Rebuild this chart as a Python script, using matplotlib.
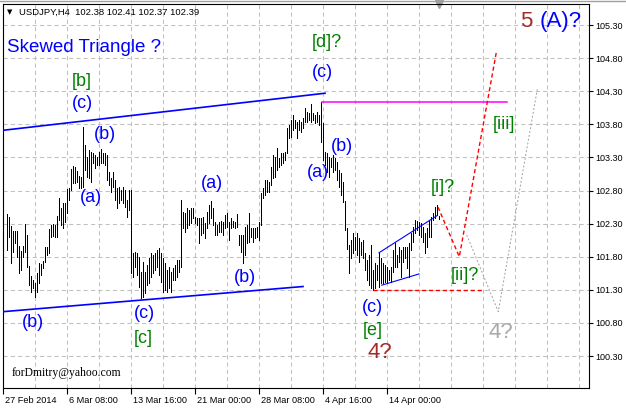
"""
USDJPY H4 bar chart with Elliott-wave markup (skewed triangle count).
"""
import numpy as np
import matplotlib
import matplotlib.pyplot as plt
from matplotlib import transforms

matplotlib.use('Agg')

OUTPUT_PNG = "out.png"

# H4 bar highs / lows, 27 Feb 2014 onwards
HIGHS = [
    102.45, 102.40, 102.26, 102.19, 102.19, 102.19, 101.96, 101.89, 101.96, 102.30,
    102.13, 101.66, 101.51, 101.45, 101.40, 101.55, 101.71, 101.69, 101.74, 101.95,
    101.95, 102.22, 102.28, 102.30, 102.28, 102.42, 102.69, 102.54, 102.61, 102.61,
    102.82, 102.84, 103.13, 103.17, 103.16, 103.10, 103.02, 103.01, 103.76, 103.49,
    103.31, 103.41, 103.38, 103.37, 103.34, 103.31, 103.38, 103.43, 103.37, 103.37,
    103.34, 103.08, 102.99, 103.08, 102.96, 102.84, 102.85, 102.81, 102.85, 102.81,
    102.66, 102.81, 102.81, 101.86, 101.87, 101.86, 101.80, 101.57, 101.72, 101.57,
    101.68, 101.78, 101.86, 101.83, 101.86, 101.90, 101.93, 101.86, 101.78, 101.71,
    101.60, 101.65, 101.57, 101.63, 101.68, 101.75, 101.75, 102.66, 102.48, 102.46,
    102.54, 102.51, 102.54, 102.54, 102.40, 102.39, 102.39, 102.39, 102.40, 102.31,
    102.48, 102.58, 102.64, 102.54, 102.33, 102.28, 102.33, 102.34, 102.33, 102.43,
    102.46, 102.33, 102.39, 102.34, 102.33, 102.45, 102.13, 102.13, 102.13, 102.25,
    102.28, 102.46, 102.23, 102.23, 102.23, 102.25, 102.33, 102.76, 102.84, 102.96,
    102.96, 102.93, 103.16, 103.34, 103.31, 103.44, 103.29, 103.37, 103.37, 103.38,
    103.75, 103.79, 103.87, 103.94, 103.87, 103.84, 103.87, 103.84, 103.90, 104.05,
    103.99, 103.97, 104.11, 103.97, 103.94, 103.99, 103.94, 104.14, 103.82, 103.38,
    103.37, 103.31, 103.29, 103.34, 103.29, 103.23, 103.11, 103.07, 102.93, 102.64,
    102.23, 101.98, 102.05, 102.16, 102.10, 102.16, 102.08, 102.02, 102.05, 101.86,
    101.75, 101.83, 101.98, 101.60, 101.71, 101.68, 101.86, 101.78, 101.71, 101.68,
    101.65, 101.60, 101.65, 101.90, 102.01, 101.83, 101.95, 101.90, 101.95, 101.95,
    101.95, 102.01, 102.16, 102.25, 102.36, 102.34, 102.33, 102.31, 102.25, 102.16,
    102.23, 102.36, 102.40, 102.46, 102.55, 102.58, 102.41,
]
LOWS = [
    101.90, 102.10, 101.71, 101.87, 102.01, 101.80, 101.55, 101.60, 101.80, 101.87,
    101.65, 101.37, 101.27, 101.33, 101.19, 101.27, 101.40, 101.52, 101.63, 101.72,
    101.83, 101.86, 102.10, 102.11, 102.10, 102.10, 102.36, 102.28, 102.23, 102.33,
    102.46, 102.66, 102.81, 102.91, 102.91, 102.93, 102.84, 102.84, 102.85, 103.11,
    103.01, 102.99, 102.93, 103.22, 103.14, 103.19, 103.19, 103.22, 103.22, 103.19,
    102.96, 102.88, 102.78, 102.85, 102.66, 102.54, 102.61, 102.66, 102.61, 102.55,
    102.40, 102.51, 101.55, 101.49, 101.65, 101.52, 101.34, 101.18, 101.19, 101.25,
    101.37, 101.40, 101.49, 101.55, 101.60, 101.65, 101.52, 101.42, 101.27, 101.30,
    101.27, 101.33, 101.27, 101.45, 101.45, 101.49, 101.57, 101.65, 102.23, 102.17,
    102.23, 102.28, 102.31, 102.39, 102.31, 102.28, 102.01, 102.13, 102.16, 102.08,
    102.23, 102.31, 102.39, 102.28, 102.13, 102.13, 102.17, 102.17, 102.13, 102.23,
    102.25, 102.05, 102.23, 102.25, 102.23, 102.25, 101.98, 101.87, 101.71, 101.83,
    102.01, 102.02, 102.10, 102.02, 102.08, 102.10, 102.05, 102.28, 102.69, 102.73,
    102.78, 102.78, 102.88, 102.99, 103.01, 103.11, 103.16, 103.19, 103.22, 103.26,
    103.37, 103.59, 103.61, 103.71, 103.75, 103.59, 103.71, 103.68, 103.75, 103.84,
    103.84, 103.87, 103.84, 103.87, 103.82, 103.84, 103.79, 103.53, 103.26, 103.19,
    103.08, 103.01, 103.16, 103.08, 103.11, 102.96, 102.85, 102.73, 102.63, 102.20,
    101.92, 101.55, 101.78, 101.86, 101.90, 101.83, 101.72, 101.83, 101.78, 101.60,
    101.45, 101.37, 101.33, 101.30, 101.33, 101.45, 101.34, 101.40, 101.40, 101.42,
    101.40, 101.45, 101.42, 101.57, 101.65, 101.65, 101.72, 101.49, 101.72, 101.78,
    101.63, 101.49, 101.90, 102.02, 102.16, 102.20, 102.13, 102.10, 102.02, 101.86,
    101.95, 102.10, 102.10, 102.36, 102.39, 102.43, 102.37,
]

PRICE_TICKS = [100.30, 100.80, 101.30, 101.80, 102.30, 102.80,
               103.30, 103.80, 104.30, 104.80, 105.30]

# time axis: bar index of each date label / grid column
TIME_TICKS = [-1.75, 30.25, 62.25, 94.25, 126.25, 158.25, 190.25]
TIME_LABELS = ['27 Feb 2014', '6 Mar 08:00', '13 Mar 16:00', '21 Mar 00:00',
               '28 Mar 08:00', '4 Apr 16:00', '14 Apr 00:00']
GRID_MINOR = [14.25, 46.25, 78.25, 110.25, 142.25, 174.25, 206.25,
              222.25, 238.25, 254.25, 270.25, 286.25]

# drawn objects (bar index, price)
UPPER_LINE_T, UPPER_LINE_P = [-1.75, 159.25], [103.71, 104.27]
LOWER_LINE_T, LOWER_LINE_P = [-1.75, 148.25], [100.97, 101.35]
RESIST_T, RESIST_P = [157.6, 250.1], [104.13, 104.13]
WEDGE_UP_T, WEDGE_UP_P = [186.25, 215.25], [101.86, 102.42]
WEDGE_LO_T, WEDGE_LO_P = [187.6, 206.25], [101.37, 101.54]
SUPPORT_T, SUPPORT_P = [183.1, 237.6], [101.30, 101.30]
PATH_MAIN_T, PATH_MAIN_P = [215.75, 226.4, 245.1], [102.55, 101.80, 104.92]
PATH_ALT_T, PATH_ALT_P = [230.1, 245.9, 265.4], [102.13, 100.97, 104.33]

BLUE = '#0000ff'
GREEN = '#008000'
BROWN = '#a52a2a'
GREY = '#a9a9a9'

# wave labels: text, bar index, price, colour, font size
WAVES = [
    ('[b]', 37.75, 104.45, GREEN, 13),
    ('(c)', 37.75, 104.12, BLUE, 13),
    ('(b)', 49.25, 103.64, BLUE, 13),
    ('(a)', 42.25, 102.69, BLUE, 13),
    ('(b)', 13.25, 100.80, BLUE, 13),
    ('(c)', 68.75, 100.95, BLUE, 13),
    ('[c]', 68.25, 100.57, GREEN, 13),
    ('(a)', 102.75, 102.91, BLUE, 13),
    ('(b)', 119.25, 101.49, BLUE, 13),
    ('[d]?', 160.25, 105.04, GREEN, 13),
    ('(c)', 157.75, 104.59, BLUE, 13),
    ('(b)', 167.75, 103.46, BLUE, 13),
    ('(a)', 155.75, 103.08, BLUE, 13),
    ('(c)', 182.75, 101.04, BLUE, 13),
    ('[e]', 183.25, 100.69, GREEN, 13),
    ('4?', 186.75, 100.36, BROWN, 16),
    ('[i]?', 218.25, 102.85, GREEN, 13),
    ('[ii]?', 229.25, 101.52, GREEN, 13),
    ('[iii]', 248.75, 103.80, GREEN, 13),
    ('4?', 247.25, 100.66, GREY, 16),
    ('5', 259.75, 105.36, BROWN, 16),
    ('(A)?', 277.25, 105.36, BLUE, 16),
]


def make_chart():
    plt.rcParams['font.family'] = ['Liberation Sans', 'DejaVu Sans']

    fig = plt.figure(figsize=(6.26, 4.08), dpi=100, facecolor='white')
    ax = fig.add_axes([3 / 626, 20 / 408, 586 / 626, 384 / 408])

    x = np.arange(len(HIGHS))
    ax.vlines(x, LOWS, HIGHS, colors='black', linewidth=0.72, antialiaseds=False, zorder=3)

    # trend lines / projections
    ax.plot(UPPER_LINE_T, UPPER_LINE_P, color=BLUE, lw=1.2, zorder=4)
    ax.plot(LOWER_LINE_T, LOWER_LINE_P, color=BLUE, lw=1.2, zorder=4)
    ax.plot(RESIST_T, RESIST_P, color='#ff00ff', lw=1.1, zorder=4)
    ax.plot(WEDGE_UP_T, WEDGE_UP_P, color=BLUE, lw=0.8, zorder=4)
    ax.plot(WEDGE_LO_T, WEDGE_LO_P, color=BLUE, lw=0.8, zorder=4)
    ax.plot(SUPPORT_T, SUPPORT_P, color='#ff0000', lw=1.0, ls=(0, (3, 2)), zorder=4)
    ax.plot(PATH_MAIN_T, PATH_MAIN_P, color='#ff0000', lw=1.0, ls=(0, (3, 2)), zorder=4)
    ax.plot(PATH_ALT_T, PATH_ALT_P, color='#a0a0a0', lw=0.7, ls=(0, (2, 2)), zorder=4)

    for txt, t, p, col, size in WAVES:
        ax.text(t, p, txt, color=col, fontsize=size, ha='center', va='center', zorder=5)

    # shift marker at the top of the chart
    ax.plot([len(HIGHS) - 1], [1.0], marker='v', ms=6, color='#a0a0a0', clip_on=False,
            transform=transforms.blended_transform_factory(ax.transData, ax.transAxes))

    ax.text(0.012, 0.979, '\u25bc', transform=ax.transAxes, fontsize=5,
            ha='center', va='center', family=['DejaVu Sans'])
    ax.text(0.0273, 0.979, 'USDJPY,H4  102.38 102.41 102.37 102.39', transform=ax.transAxes,
            fontsize=6.8, ha='left', va='center')
    ax.text(0.0068, 0.888, 'Skewed Triangle ?', transform=ax.transAxes, color=BLUE,
            fontsize=13.5, ha='left', va='center')
    ax.text(0.0154, 0.039, 'forDmitry@yahoo.com', transform=ax.transAxes,
            fontsize=8.4, ha='left', va='center', family=['Liberation Serif'])

    ax.set_xlim(-1.75, 291.25)
    ax.set_ylim(99.817, 105.618)

    ax.yaxis.tick_right()
    ax.set_yticks(PRICE_TICKS)
    ax.set_yticklabels([f'{v:.2f}' for v in PRICE_TICKS])
    ax.set_xticks(TIME_TICKS)
    ax.set_xticklabels(TIME_LABELS)
    ax.set_xticks(GRID_MINOR, minor=True)
    ax.tick_params(axis='x', which='major', direction='out', length=4, pad=1.5,
                   labelsize=6.6, width=0.8)
    ax.tick_params(axis='x', which='minor', length=0)
    ax.tick_params(axis='y', direction='out', length=3, pad=1.5, labelsize=6.5, width=0.8)

    shift = transforms.ScaledTranslation(1.5 / 72, 0, fig.dpi_scale_trans)
    for lbl in ax.get_xticklabels():
        lbl.set_ha('left')
        lbl.set_transform(lbl.get_transform() + shift)

    ax.grid(True, which='both', color='#c0c0c0', linestyle=(0, (4, 3)), linewidth=0.75)
    ax.set_axisbelow(True)
    for sp in ax.spines.values():
        sp.set_linewidth(0.8)
        sp.set_color('black')

    fig.add_artist(plt.Line2D([0, 1], [407.5 / 408, 407.5 / 408], color='#a0a0a0', lw=1.0,
                              transform=fig.transFigure))

    fig.savefig(OUTPUT_PNG, dpi=100)
    plt.close(fig)


if __name__ == "__main__":
    make_chart()
